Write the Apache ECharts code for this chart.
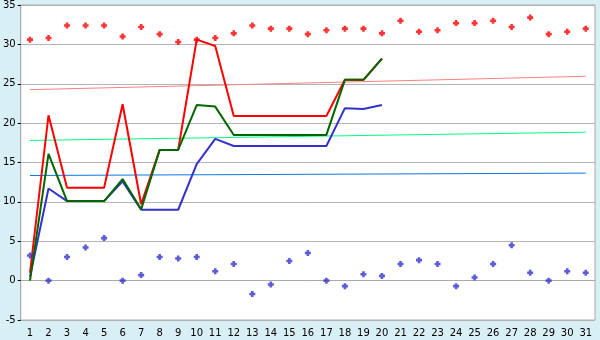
<!DOCTYPE html>
<html><head><meta charset="utf-8">
<script src="https://cdn.jsdelivr.net/npm/echarts@6/dist/echarts.min.js"></script>
<style>html,body{margin:0;padding:0;background:#d9eff6;}#c{width:600px;height:340px;}</style>
</head><body><div id="c"></div>
<script>
var categories = ['1','2','3','4','5','6','7','8','9','10','11','12','13','14','15','16','17','18','19','20','21','22','23','24','25','26','27','28','29','30','31'];
var redLine   = [1.0, 21.0, 11.8, 11.8, 11.8, 22.4, 9.7, 16.6, 16.6, 30.6, 29.8, 20.9, 20.9, 20.9, 20.9, 20.9, 20.9, 25.5, 25.5, 28.2];
var greenLine = [0.0, 16.1, 10.1, 10.1, 10.1, 12.9, 9.05, 16.6, 16.6, 22.3, 22.1, 18.5, 18.5, 18.5, 18.5, 18.5, 18.5, 25.5, 25.5, 28.2];
var blueLine  = [0.5, 11.7, 10.1, 10.1, 10.1, 12.6, 9.0, 9.0, 9.0, 14.8, 18.0, 17.1, 17.1, 17.1, 17.1, 17.1, 17.1, 21.9, 21.8, 22.3];
var redPoints = [30.6, 30.8, 32.4, 32.4, 32.4, 31.0, 32.2, 31.3, 30.3, 30.6, 30.8, 31.4, 32.4, 32.0, 32.0, 31.3, 31.8, 32.0, 32.0, 31.4, 33.0, 31.6, 31.8, 32.7, 32.7, 33.0, 32.2, 33.4, 31.3, 31.6, 32.0];
var bluePoints = [3.2, 0.0, 3.0, 4.2, 5.4, 0.0, 0.7, 3.0, 2.8, 3.0, 1.2, 2.1, -1.7, -0.5, 2.5, 3.5, 0.0, -0.7, 0.8, 0.6, 2.1, 2.6, 2.1, -0.7, 0.4, 2.1, 4.5, 1.0, 0.0, 1.2, 1.0];
var redTrend = [24.25, 25.95];
var greenTrend = [17.8, 18.85];
var blueTrend = [13.35, 13.65];
var yTicks = {min: -5, max: 35, interval: 5};

function endsOnly(pair){
  var a = categories.map(function(){return null;});
  a[0] = pair[0]; a[categories.length-1] = pair[1];
  return a;
}
var marker = 'path://M2,0H5V2H7V5H5V7H2V5H0V2H2Z';
var font = {fontFamily: 'DejaVu Sans', fontSize: 10, color: '#000'};
var chart = echarts.init(document.getElementById('c'), null, {renderer: 'canvas'});
chart.setOption({
  animation: false,
  backgroundColor: '#d9eff6',
  grid: {left: 20, right: 5, top: 5, bottom: 20, show: true, backgroundColor: '#fff', borderColor: '#aaa', borderWidth: 1},
  xAxis: {
    type: 'category', data: categories, boundaryGap: true,
    axisLine: {lineStyle: {color: '#aaa'}},
    axisTick: {alignWithLabel: true, length: 5, lineStyle: {color: '#000'}},
    axisLabel: Object.assign({margin: 8, interval: 0}, font),
    splitLine: {show: false}
  },
  yAxis: {
    type: 'value', min: yTicks.min, max: yTicks.max, interval: yTicks.interval,
    axisLine: {show: true, lineStyle: {color: '#aaa'}},
    axisTick: {show: true, length: 3, lineStyle: {color: '#000'}},
    axisLabel: Object.assign({margin: 5}, font),
    splitLine: {lineStyle: {color: '#b4b4b4'}}
  },
  series: [
    {type: 'line', data: endsOnly(redTrend), connectNulls: true, symbol: 'none', lineStyle: {color: '#ff8080', width: 1}, z: 1},
    {type: 'line', data: endsOnly(greenTrend), connectNulls: true, symbol: 'none', lineStyle: {color: '#00ff80', width: 1}, z: 1},
    {type: 'line', data: endsOnly(blueTrend), connectNulls: true, symbol: 'none', lineStyle: {color: '#0a78e6', width: 1}, z: 1},
    {type: 'line', data: blueLine, symbol: 'none', lineStyle: {color: '#3333cc', width: 2}, z: 2},
    {type: 'line', data: redLine, symbol: 'none', lineStyle: {color: '#ff0000', width: 2}, z: 3},
    {type: 'line', data: greenLine, symbol: 'none', lineStyle: {color: '#006600', width: 2}, z: 4},
    {type: 'scatter', data: redPoints, symbol: marker, symbolSize: 6, itemStyle: {color: '#ff0000'}, z: 5},
    {type: 'scatter', data: bluePoints, symbol: marker, symbolSize: 6, itemStyle: {color: '#3333cc'}, z: 5}
  ]
});
</script>
</body></html>
